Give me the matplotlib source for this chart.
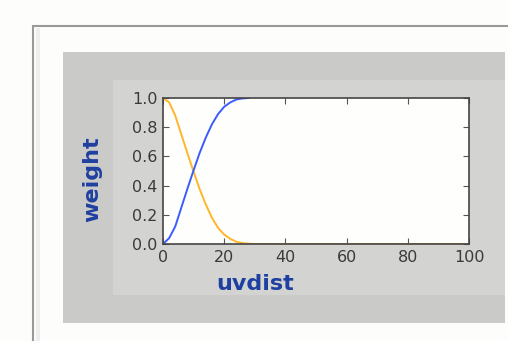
import matplotlib
matplotlib.use("Agg")
import matplotlib.pyplot as plt
from matplotlib.patches import Rectangle

# values
uvdist = [0, 2, 4, 6, 8, 10, 12, 14, 16, 18, 20, 22, 24, 26, 28, 30, 40, 60, 80, 100]
weight_falling = [1.0, 0.97, 0.88, 0.75, 0.62, 0.495, 0.375, 0.27, 0.18, 0.11,
                  0.065, 0.035, 0.015, 0.006, 0.002, 0.0, 0.0, 0.0, 0.0, 0.0]
uvdist_rising = [0, 2, 4, 6, 8, 10, 12, 14, 16, 18, 20, 22, 24, 26, 28]
weight_rising = [0.0, 0.04, 0.12, 0.25, 0.38, 0.505, 0.625, 0.73, 0.82, 0.89,
                 0.94, 0.97, 0.99, 0.997, 1.0]
xticks = [0, 20, 40, 60, 80, 100]
yticks = [0.0, 0.2, 0.4, 0.6, 0.8, 1.0]

W, H = 508, 341
fig = plt.figure(figsize=(W / 100, H / 100), dpi=100)
fig.patch.set_facecolor("#fdfdfc")


def box(x0, y0, x1, y1, **kw):
    # pixel box (top-left origin) -> figure fraction, kept behind the axes
    fig.add_artist(Rectangle((x0 / W, 1 - y1 / H), (x1 - x0) / W, (y1 - y0) / H,
                             transform=fig.transFigure, zorder=-10, **kw))


# page frame and the two grey panels
box(33, 26, 520, 360, facecolor="#fdfdfc", edgecolor="#9a9a9a", linewidth=1.5)
box(36, 28, 40, 360, facecolor="#eeeeee", edgecolor="none")
box(63, 52, 505, 323, facecolor="#cacbc8", edgecolor="none")
box(113, 80, 505, 295, facecolor="#d3d4d1", edgecolor="none")

ax = fig.add_axes([163 / W, 1 - 244 / H, (469 - 163) / W, (244 - 98) / H])
ax.set_facecolor("#fefefd")
ax.plot(uvdist, weight_falling, color="#ffb62a", linewidth=1.4)
ax.plot(uvdist_rising, weight_rising, color="#3a5cff", linewidth=1.4)
ax.set_xlim(0, 100)
ax.set_ylim(0, 1)
ax.set_xticks(xticks)
ax.set_yticks(yticks)
ax.set_yticklabels([f"{v:.1f}" for v in yticks])
ax.tick_params(direction="in", length=4, top=True, right=True,
               labelsize=11.5, labelcolor="#3a3a3a", color="#555555", pad=4)
for sp in ax.spines.values():
    sp.set_color("#444444")
    sp.set_linewidth(1.2)

lab_color = "#1f40a0"
fig.text(255 / W, 1 - 284 / H, "uvdist", ha="center", va="center",
         fontsize=16, fontweight="bold", color=lab_color)
fig.text(92 / W, 1 - 179 / H, "weight", ha="center", va="center", rotation=90,
         fontsize=16, fontweight="bold", color=lab_color)

fig.savefig("out.png", dpi=100)
